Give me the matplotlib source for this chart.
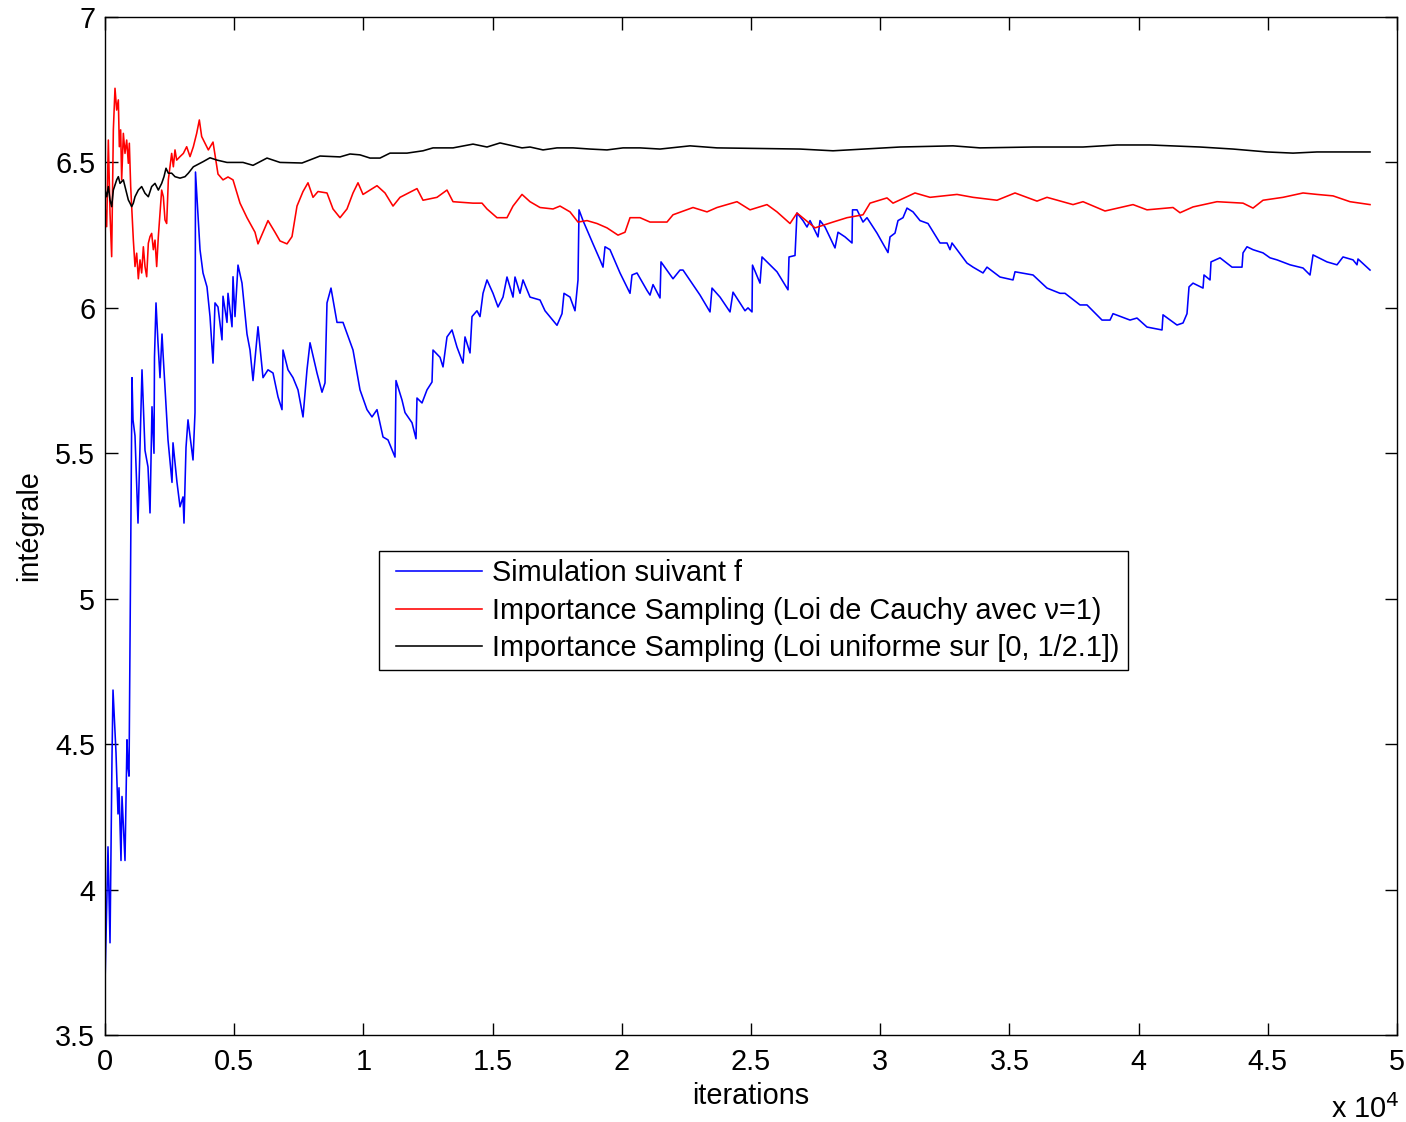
import matplotlib
matplotlib.use("Agg")
import matplotlib.pyplot as plt
from matplotlib.legend_handler import HandlerLine2D
import numpy as np

plt.rcParams["font.family"] = ["Liberation Sans", "DejaVu Sans"]

# ---------------------------------------------------------------------------
# Data (iterations, running estimate of the integral)
# ---------------------------------------------------------------------------
blue_x = [1, 116, 194, 271, 310, 426, 503, 542, 619, 658, 774, 851, 890, 929,
          1045, 1084, 1161, 1277, 1432, 1548, 1664, 1742, 1819, 1896, 1915, 1974,
          2051, 2129, 2206, 2245, 2438, 2593, 2632, 2786, 2903, 3019, 3057, 3135,
          3212, 3290, 3406, 3483, 3502, 3677, 3793, 3947, 4064, 4180, 4257, 4373,
          4528, 4567, 4721, 4760, 4915, 4954, 5031, 5147, 5302, 5495, 5612, 5728,
          5921, 6115, 6308, 6502, 6695, 6850, 6889, 7082, 7276, 7469, 7663, 7817,
          7934, 8204, 8398, 8514, 8591, 8746, 8978, 9211, 9598, 9869, 10139, 10333,
          10526, 10759, 10952, 11223, 11262, 11494, 11610, 11881, 12036, 12074,
          12268, 12461, 12655, 12694, 12965, 13081, 13235, 13429, 13622, 13855,
          13932, 14126, 14203, 14396, 14513, 14629, 14783, 15016, 15209, 15403,
          15557, 15790, 15867, 16061, 16177, 16448, 16835, 17028, 17492, 17686,
          17763, 17996, 18189, 18305, 18344, 18499, 18886, 19157, 19273, 19350,
          19544, 19931, 20318, 20395, 20588, 20975, 21092, 21208, 21479, 21517,
          21982, 22253, 22369, 23027, 23414, 23491, 23801, 24188, 24304, 24768,
          24884, 25039, 25058, 25349, 25426, 26006, 26432, 26471, 26703, 26780,
          27013, 27167, 27284, 27593, 27671, 27864, 28251, 28367, 28638, 28909,
          28928, 29102, 29335, 29489, 29876, 30302, 30380, 30573, 30689, 30883,
          31037, 31270, 31541, 31850, 32315, 32585, 32702, 32779, 33359, 33592,
          33979, 34133, 34637, 35140, 35217, 35914, 36455, 36959, 37152, 37733,
          38003, 38584, 38894, 39010, 39668, 39938, 40325, 40906, 40945, 41486,
          41719, 41873, 41951, 42106, 42493, 42531, 42764, 42802, 43151, 43615,
          44002, 44041, 44195, 44428, 44815, 45086, 45356, 45860, 46363, 46634,
          46750, 47291, 47678, 47911, 48298, 48452, 48491, 48956]
blue_y = [3.68, 4.147, 3.817, 4.456, 4.686, 4.47, 4.26, 4.35, 4.10, 4.32, 4.10, 4.515,
          4.42, 4.39, 5.76, 5.615, 5.56, 5.26, 5.787, 5.51, 5.453, 5.295, 5.66, 5.50,
          5.83, 6.017, 5.88, 5.76, 5.91, 5.845, 5.546, 5.40, 5.536, 5.40, 5.316, 5.35,
          5.26, 5.52, 5.615, 5.56, 5.477, 5.64, 6.467, 6.20, 6.12, 6.072, 5.97, 5.81,
          6.017, 6.003, 5.89, 6.04, 5.95, 6.05, 5.935, 6.107, 5.97, 6.147, 6.085, 5.91,
          5.855, 5.75, 5.935, 5.76, 5.787, 5.776, 5.694, 5.65, 5.855, 5.787, 5.76,
          5.718, 5.625, 5.787, 5.88, 5.776, 5.71, 5.742, 6.017, 6.068, 5.95, 5.95,
          5.855, 5.718, 5.65, 5.625, 5.65, 5.556, 5.546, 5.487, 5.75, 5.683, 5.64,
          5.605, 5.55, 5.69, 5.673, 5.718, 5.745, 5.855, 5.83, 5.797, 5.90, 5.924,
          5.865, 5.81, 5.90, 5.845, 5.97, 5.99, 5.97, 6.05, 6.096, 6.05, 6.003, 6.037,
          6.106, 6.037, 6.106, 6.05, 6.096, 6.037, 6.027, 5.99, 5.94, 5.98, 6.05,
          6.037, 5.99, 6.096, 6.337, 6.30, 6.22, 6.165, 6.14, 6.21, 6.20, 6.12, 6.05,
          6.113, 6.12, 6.06, 6.044, 6.08, 6.034, 6.158, 6.10, 6.13, 6.13, 6.044,
          5.986, 6.068, 6.037, 5.986, 6.054, 5.99, 6.0, 5.986, 6.147, 6.085, 6.175,
          6.124, 6.062, 6.175, 6.18, 6.326, 6.30, 6.278, 6.30, 6.244, 6.30, 6.278,
          6.206, 6.26, 6.244, 6.223, 6.337, 6.337, 6.295, 6.31, 6.257, 6.19, 6.244,
          6.257, 6.30, 6.31, 6.343, 6.33, 6.30, 6.29, 6.223, 6.223, 6.20, 6.223,
          6.154, 6.14, 6.12, 6.14, 6.106, 6.096, 6.124, 6.113, 6.068, 6.05, 6.05,
          6.01, 6.01, 5.958, 5.958, 5.98, 5.958, 5.965, 5.934, 5.924, 5.976, 5.941,
          5.948, 5.98, 6.072, 6.085, 6.068, 6.113, 6.096, 6.158, 6.172, 6.14, 6.14,
          6.189, 6.21, 6.20, 6.189, 6.172, 6.165, 6.148, 6.137, 6.113, 6.182, 6.158,
          6.148, 6.175, 6.165, 6.148, 6.168, 6.13]

red_x = [1, 65, 129, 194, 258, 323, 387, 452, 516, 555, 606, 645, 710, 774, 839,
         903, 942, 994, 1032, 1097, 1161, 1226, 1290, 1355, 1419, 1484, 1548, 1613,
         1677, 1742, 1806, 1871, 1935, 2000, 2064, 2129, 2193, 2258, 2322, 2387,
         2451, 2516, 2580, 2645, 2709, 2774, 2903, 3032, 3161, 3290, 3419, 3548,
         3651, 3741, 3870, 3999, 4180, 4373, 4567, 4760, 4954, 5225, 5495, 5805,
         5921, 6115, 6308, 6579, 6773, 7043, 7237, 7430, 7663, 7856, 8050, 8243,
         8591, 8824, 9095, 9365, 9598, 9791, 9985, 10526, 10836, 11146, 11417,
         12074, 12307, 12848, 13235, 13468, 14242, 14590, 14783, 15170, 15557,
         15790, 16138, 16448, 16835, 17338, 17609, 17996, 18305, 18653, 19040,
         19427, 19853, 20124, 20318, 20705, 21092, 21749, 21982, 22756, 23297,
         23684, 24458, 24962, 25619, 26006, 26510, 26780, 27477, 28174, 28715,
         29335, 29606, 30263, 30496, 31347, 31928, 32972, 33592, 34520, 35217,
         36068, 36455, 37462, 37849, 38700, 39784, 40325, 41332, 41603, 42106,
         43034, 44041, 44428, 44815, 45589, 46363, 46904, 47524, 48182, 48956]
red_y = [6.348, 6.279, 6.577, 6.326, 6.176, 6.612, 6.755, 6.68, 6.715, 6.554, 6.612,
         6.44, 6.60, 6.531, 6.577, 6.497, 6.566, 6.417, 6.348, 6.233, 6.142, 6.188,
         6.10, 6.165, 6.12, 6.21, 6.142, 6.107, 6.222, 6.245, 6.256, 6.20, 6.233,
         6.142, 6.245, 6.325, 6.405, 6.382, 6.302, 6.29, 6.44, 6.485, 6.531, 6.485,
         6.543, 6.508, 6.52, 6.531, 6.554, 6.52, 6.554, 6.60, 6.646, 6.589, 6.566,
         6.543, 6.57, 6.46, 6.44, 6.45, 6.44, 6.36, 6.31, 6.26, 6.22, 6.26, 6.30,
         6.26, 6.23, 6.22, 6.245, 6.35, 6.40, 6.43, 6.38, 6.40, 6.395, 6.34, 6.31,
         6.34, 6.395, 6.43, 6.39, 6.42, 6.395, 6.35, 6.38, 6.41, 6.37, 6.38, 6.405,
         6.365, 6.36, 6.36, 6.34, 6.31, 6.31, 6.35, 6.39, 6.365, 6.345, 6.34, 6.35,
         6.33, 6.295, 6.30, 6.29, 6.275, 6.25, 6.26, 6.31, 6.31, 6.295, 6.295, 6.32,
         6.345, 6.33, 6.345, 6.365, 6.337, 6.355, 6.33, 6.29, 6.326, 6.275, 6.295,
         6.31, 6.32, 6.36, 6.378, 6.36, 6.395, 6.38, 6.39, 6.38, 6.37, 6.395, 6.367,
         6.38, 6.355, 6.365, 6.333, 6.355, 6.337, 6.345, 6.327, 6.347, 6.365, 6.36,
         6.343, 6.37, 6.38, 6.395, 6.39, 6.385, 6.365, 6.355]

black_x = [1, 65, 129, 194, 258, 323, 452, 516, 581, 710, 774, 903, 968, 1032, 1097,
           1161, 1290, 1419, 1548, 1677, 1806, 1935, 2064, 2193, 2283, 2361, 2451,
           2580, 2709, 2903, 3096, 3225, 3419, 3548, 3805, 4064, 4334, 4721, 5341,
           5728, 6269, 6773, 7624, 8321, 9095, 9482, 9869, 10256, 10643, 11030,
           11687, 12307, 12694, 13468, 14242, 14783, 15287, 15790, 16138, 16448,
           16951, 17492, 18112, 18770, 19427, 20047, 20705, 21479, 22640, 23684,
           26897, 28174, 30767, 32818, 33863, 35914, 37849, 39164, 40442, 42377,
           43654, 44969, 45976, 46904, 48956]
black_y = [6.405, 6.382, 6.417, 6.371, 6.348, 6.405, 6.44, 6.451, 6.428, 6.44, 6.417,
           6.371, 6.36, 6.348, 6.36, 6.382, 6.405, 6.417, 6.394, 6.382, 6.417, 6.428,
           6.405, 6.428, 6.451, 6.48, 6.463, 6.463, 6.451, 6.446, 6.451, 6.463, 6.485,
           6.491, 6.503, 6.516, 6.508, 6.50, 6.50, 6.49, 6.515, 6.50, 6.498, 6.522,
           6.519, 6.529, 6.526, 6.515, 6.515, 6.532, 6.532, 6.54, 6.55, 6.55, 6.563,
           6.553, 6.567, 6.557, 6.55, 6.553, 6.543, 6.55, 6.55, 6.546, 6.543, 6.55,
           6.55, 6.546, 6.557, 6.55, 6.546, 6.54, 6.553, 6.557, 6.55, 6.553, 6.553,
           6.56, 6.56, 6.553, 6.546, 6.536, 6.532, 6.536, 6.536]

labels = ["Simulation suivant f",
          "Importance Sampling (Loi de Cauchy avec \u03bd=1)",
          "Importance Sampling (Loi uniforme sur [0, 1/2.1])"]

x_ticks = [0, 5000, 10000, 15000, 20000, 25000, 30000, 35000, 40000, 45000, 50000]
x_ticklabels = ["0", "0.5", "1", "1.5", "2", "2.5", "3", "3.5", "4", "4.5", "5"]
y_ticks = [3.5, 4, 4.5, 5, 5.5, 6, 6.5, 7]
y_ticklabels = ["3.5", "4", "4.5", "5", "5.5", "6", "6.5", "7"]

FS = 20.8


# legend handle with empty space before the line (MATLAB-like legend box)
class PaddedLine(HandlerLine2D):
    def __init__(self, lead=6.5, **kw):
        super().__init__(**kw)
        self.lead = lead

    def create_artists(self, legend, orig_handle, xdescent, ydescent,
                       width, height, fontsize, trans):
        return super().create_artists(legend, orig_handle, xdescent - self.lead,
                                      ydescent, width - self.lead, height,
                                      fontsize, trans)


# ---------------------------------------------------------------------------
# Figure
# ---------------------------------------------------------------------------
fig = plt.figure(figsize=(14.06, 11.22), dpi=100)
ax = fig.add_axes([105 / 1406, 1 - 1035 / 1122, 1292 / 1406, 1018 / 1122])

ax.plot(blue_x, blue_y, color="#0000ff", lw=1.15, label=labels[0])
ax.plot(red_x, red_y, color="#ff0000", lw=1.15, label=labels[1])
ax.plot(black_x, black_y, color="#000000", lw=1.15, label=labels[2])

ax.set_xlim(0, 50000)
ax.set_ylim(3.5, 7)
ax.set_xticks(x_ticks)
ax.set_xticklabels(x_ticklabels)
ax.set_yticks(y_ticks)
ax.set_yticklabels(y_ticklabels)
ax.tick_params(direction="in", length=9, width=1.0, labelsize=FS,
               top=True, right=True, pad=7)
ax.tick_params(axis="x", pad=9)
for sp in ax.spines.values():
    sp.set_linewidth(1.0)

ax.set_xlabel("iterations", fontsize=FS, labelpad=5)
ax.set_ylabel("int\u00e9grale", fontsize=FS, labelpad=9)

fig.text(1331 / 1406, 1 - 1118 / 1122, "x 10$^{4}$", fontsize=FS,
         ha="left", va="baseline")

leg = ax.legend(loc="upper left", bbox_to_anchor=(0.212, 0.4754),
                fontsize=FS, frameon=True, fancybox=False, framealpha=1,
                edgecolor="black", handlelength=3.3, handletextpad=0.34,
                labelspacing=0.33, borderpad=0.28, borderaxespad=0,
                handler_map={plt.Line2D: PaddedLine()})
leg.get_frame().set_linewidth(1.0)

fig.savefig("out.png", dpi=100, facecolor="white")
